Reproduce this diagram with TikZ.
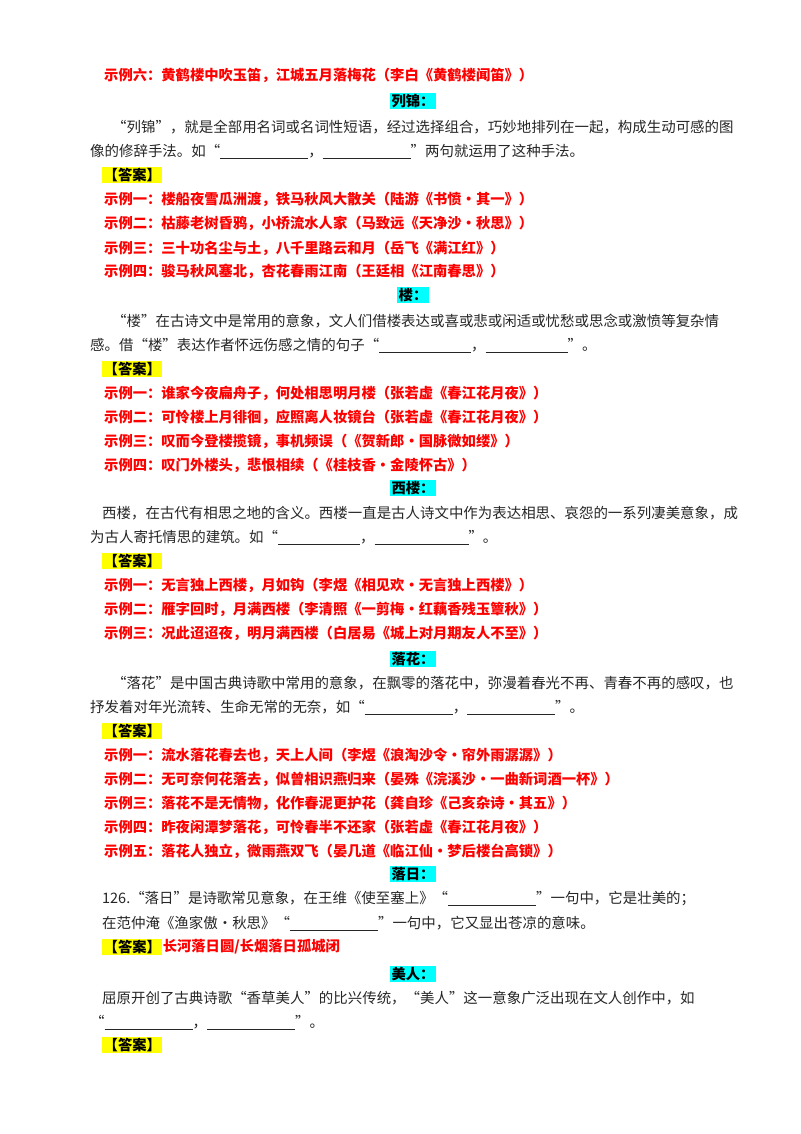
\documentclass[tikz,border=0pt]{standalone}
\usepackage{fontspec}
\setmainfont{Noto Sans CJK SC}
\definecolor{aqua}{RGB}{0,255,255}
\definecolor{hlyellow}{RGB}{255,255,0}
\newcommand\blk[1]{\rule[-2pt]{#1pt}{0.6pt}}
\begin{document}
\begin{tikzpicture}[x=1pt,y=-1pt,
  base/.style={anchor=west,inner sep=0pt,font=\fontsize{14.45}{17}\selectfont},
  bodyline/.style={base,text=black!85},
  redline/.style={base,text=red,font=\fontsize{14.3}{17}\selectfont\bfseries},
  headbox/.style={inner sep=1.5pt,fill=aqua,font=\fontsize{14.3}{17}\selectfont\bfseries},
  ansbox/.style={base,inner sep=1.5pt,fill=hlyellow,font=\fontsize{14.3}{17}\selectfont\bfseries}]
\useasboundingbox[fill=white] (0,0) rectangle (800,1134);
\node[redline] (r0) at (104,75) {示例六：黄鹤楼中吹玉笛，江城五月落梅花（李白《黄鹤楼闻笛》）};
\node[headbox] (h1) at (413,101) {列锦：};
\node[bodyline] (p1a) at (112,127) {“列锦”，就是全部用名词或名词性短语，经过选择组合，巧妙地排列在一起，构成生动可感的图};
\node[bodyline] (p1b) at (90,151) {像的修辞手法。如“\blk{88}，\blk{88}”两句就运用了这种手法。};
\node[ansbox] (a1) at (102,175) {【答案】};
\node[redline] (r11) at (104,199) {示例一：楼船夜雪瓜洲渡，铁马秋风大散关（陆游《书愤·其一》）};
\node[redline] (r12) at (104,223) {示例二：枯藤老树昏鸦，小桥流水人家（马致远《天净沙·秋思》）};
\node[redline] (r13) at (104,248) {示例三：三十功名尘与土，八千里路云和月（岳飞《满江红》）};
\node[redline] (r14) at (104,271) {示例四：骏马秋风塞北，杏花春雨江南（王廷相《江南春思》）};
\node[headbox] (h2) at (413,295) {楼：};
\node[bodyline] (p2a) at (112,321) {“楼”在古诗文中是常用的意象，文人们借楼表达或喜或悲或闲适或忧愁或思念或激愤等复杂情};
\node[bodyline] (p2b) at (90,345) {感。借“楼”表达作者怀远伤感之情的句子“\blk{92}，\blk{82}”。};
\node[ansbox] (a2) at (102,369) {【答案】};
\node[redline] (r21) at (104,393) {示例一：谁家今夜扁舟子，何处相思明月楼（张若虚《春江花月夜》）};
\node[redline] (r22) at (104,417) {示例二：可怜楼上月徘徊，应照离人妆镜台（张若虚《春江花月夜》）};
\node[redline] (r23) at (104,441) {示例三：叹而今登楼揽镜，事机频误（《贺新郎·国脉微如缕》）};
\node[redline] (r24) at (104,465) {示例四：叹门外楼头，悲恨相续（《桂枝香·金陵怀古》）};
\node[headbox] (h3) at (413,488) {西楼：};
\node[bodyline] (p3a) at (102,513) {西楼，在古代有相思之地的含义。西楼一直是古人诗文中作为表达相思、哀怨的一系列凄美意象，成};
\node[bodyline] (p3b) at (90,537) {为古人寄托情思的建筑。如“\blk{82}，\blk{94}”。};
\node[ansbox] (a3) at (102,561) {【答案】};
\node[redline] (r31) at (104,585) {示例一：无言独上西楼，月如钩（李煜《相见欢·无言独上西楼》）};
\node[redline] (r32) at (104,609) {示例二：雁字回时，月满西楼（李清照《一剪梅·红藕香残玉簟秋》）};
\node[redline] (r33) at (104,633) {示例三：况此迢迢夜，明月满西楼（白居易《城上对月期友人不至》）};
\node[headbox] (h4) at (413,659) {落花：};
\node[bodyline] (p4a) at (112,683) {“落花”是中国古典诗歌中常用的意象，在飘零的落花中，弥漫着春光不再、青春不再的感叹，也};
\node[bodyline] (p4b) at (90,707) {抒发着对年光流转、生命无常的无奈，如“\blk{88}，\blk{88}”。};
\node[ansbox] (a4) at (102,731) {【答案】};
\node[redline] (r41) at (104,755) {示例一：流水落花春去也，天上人间（李煜《浪淘沙令·帘外雨潺潺》）};
\node[redline] (r42) at (104,779) {示例二：无可奈何花落去，似曾相识燕归来（晏殊《浣溪沙·一曲新词酒一杯》）};
\node[redline] (r43) at (104,803) {示例三：落花不是无情物，化作春泥更护花（龚自珍《己亥杂诗·其五》）};
\node[redline] (r44) at (104,827) {示例四：昨夜闲潭梦落花，可怜春半不还家（张若虚《春江花月夜》）};
\node[redline] (r45) at (104,851) {示例五：落花人独立，微雨燕双飞（晏几道《临江仙·梦后楼台高锁》）};
\node[headbox] (h5) at (413,874) {落日：};
\node[bodyline] (p5a) at (102,899) {126.“落日”是诗歌常见意象，在王维《使至塞上》“\blk{88}”一句中，它是壮美的；};
\node[bodyline] (p5b) at (102,923) {在范仲淹《渔家傲·秋思》“\blk{88}”一句中，它又显出苍凉的意味。};
\node[ansbox] (a5) at (102,947) {【答案】};
\node[redline] (r51) at (a5.east) [anchor=west] {长河落日圆/长烟落日孤城闭};
\node[headbox] (h6) at (413,974) {美人：};
\node[bodyline] (p6a) at (102,998) {屈原开创了古典诗歌“香草美人”的比兴传统，“美人”这一意象广泛出现在文人创作中，如};
\node[bodyline] (p6b) at (90,1022) {“\blk{88}，\blk{88}”。};
\node[ansbox] (a6) at (102,1045) {【答案】};
\end{tikzpicture}
\end{document}
